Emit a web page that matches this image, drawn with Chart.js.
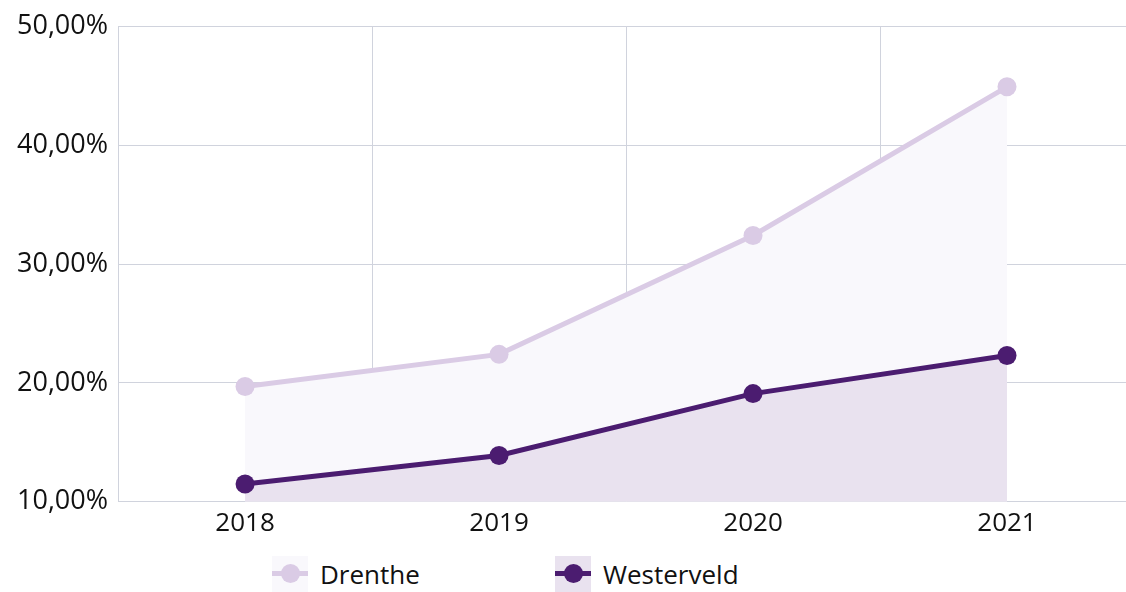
<!DOCTYPE html>
<html>
<head>
<meta charset="utf-8">
<script src="https://cdn.jsdelivr.net/npm/chart.js@4.4.1/dist/chart.umd.min.js"></script>
<style>
  body { margin: 0; background: #fff; font-family: "Open Sans", sans-serif; overflow: hidden; }
  #wrap { position: relative; width: 1126px; height: 592px; overflow: hidden; }
  #box { position: absolute; left: 0; top: 0; width: 1134px; height: 548px; }
  #legend { position: absolute; left: 272px; top: 556px; display: flex; }
  .item { display: flex; align-items: center; min-width: 283px; font-size: 26px; color: #111; }
  .swatch { position: relative; width: 36px; height: 36px; margin-right: 12px; }
  .swatch .ln { position: absolute; left: 0; right: 0; top: 15px; height: 5px; }
  .swatch .dot { position: absolute; left: 9px; top: 8px; width: 19px; height: 19px; border-radius: 50%; }
</style>
</head>
<body>
<div id="wrap">
  <div id="box"><canvas id="chart"></canvas></div>
  <div id="legend"></div>
</div>
<script>
var years = ['2018', '2019', '2020', '2021'];
var drenthe = [19.7, 22.4, 32.4, 44.9];
var westerveld = [11.5, 13.9, 19.1, 22.3];
var seriesNames = ['Drenthe', 'Westerveld'];
var lineColors = ['#dacbe5', '#4b1c70'];
var fillColors = ['#f9f8fc', '#e9e2ef'];

var font = { family: '"Open Sans", sans-serif', size: 26 };
var yFont = { family: '"Open Sans", sans-serif', size: 27 };
var gridColor = '#d0d3dd';

var chartdata = {
	labels: years,
	datasets: [
		{
			label: seriesNames[0],
			data: drenthe,
			borderColor: lineColors[0],
			backgroundColor: fillColors[0],
			pointBackgroundColor: lineColors[0],
			pointBorderColor: lineColors[0],
			fill: 'origin',
			order: 1
		},
		{
			label: seriesNames[1],
			data: westerveld,
			borderColor: lineColors[1],
			backgroundColor: fillColors[1],
			pointBackgroundColor: lineColors[1],
			pointBorderColor: lineColors[1],
			fill: 'origin',
			order: 0
		}
	]
};

var ctx = document.getElementById('chart');
var lineGraph = new Chart(ctx, {
	type: 'line',
	data: chartdata,
	options: {
		responsive: true,
		maintainAspectRatio: false,
		animation: false,
		layout: { autoPadding: false, padding: { left: 7, top: 11, right: 0, bottom: 3 } },
		elements: {
			line: { borderWidth: 5, tension: 0 },
			point: { radius: 9.5, borderWidth: 0, hoverRadius: 9.5 }
		},
		plugins: {
			legend: { display: false },
			tooltip: { enabled: false }
		},
		scales: {
			x: {
				offset: true,
				grid: { offset: true, color: gridColor, drawTicks: false },
				border: { color: gridColor },
				ticks: { font: font, color: '#111', padding: 6 }
			},
			y: {
				min: 10,
				max: 50,
				grid: { color: gridColor, drawTicks: false },
				border: { color: gridColor },
				ticks: {
					stepSize: 10,
					font: yFont,
					color: '#111',
					padding: 10,
					callback: function(v) { return v.toFixed(2).replace('.', ',') + '%'; }
				}
			}
		}
	}
});

// html legend
var legend = document.getElementById('legend');
for (var i in seriesNames) {
	var item = document.createElement('div');
	item.className = 'item';
	item.innerHTML = '<div class="swatch" style="background:' + fillColors[i] + '">' +
		'<div class="ln" style="background:' + lineColors[i] + '"></div>' +
		'<div class="dot" style="background:' + lineColors[i] + '"></div></div>' +
		'<span>' + seriesNames[i] + '</span>';
	legend.appendChild(item);
}
</script>
</body>
</html>
